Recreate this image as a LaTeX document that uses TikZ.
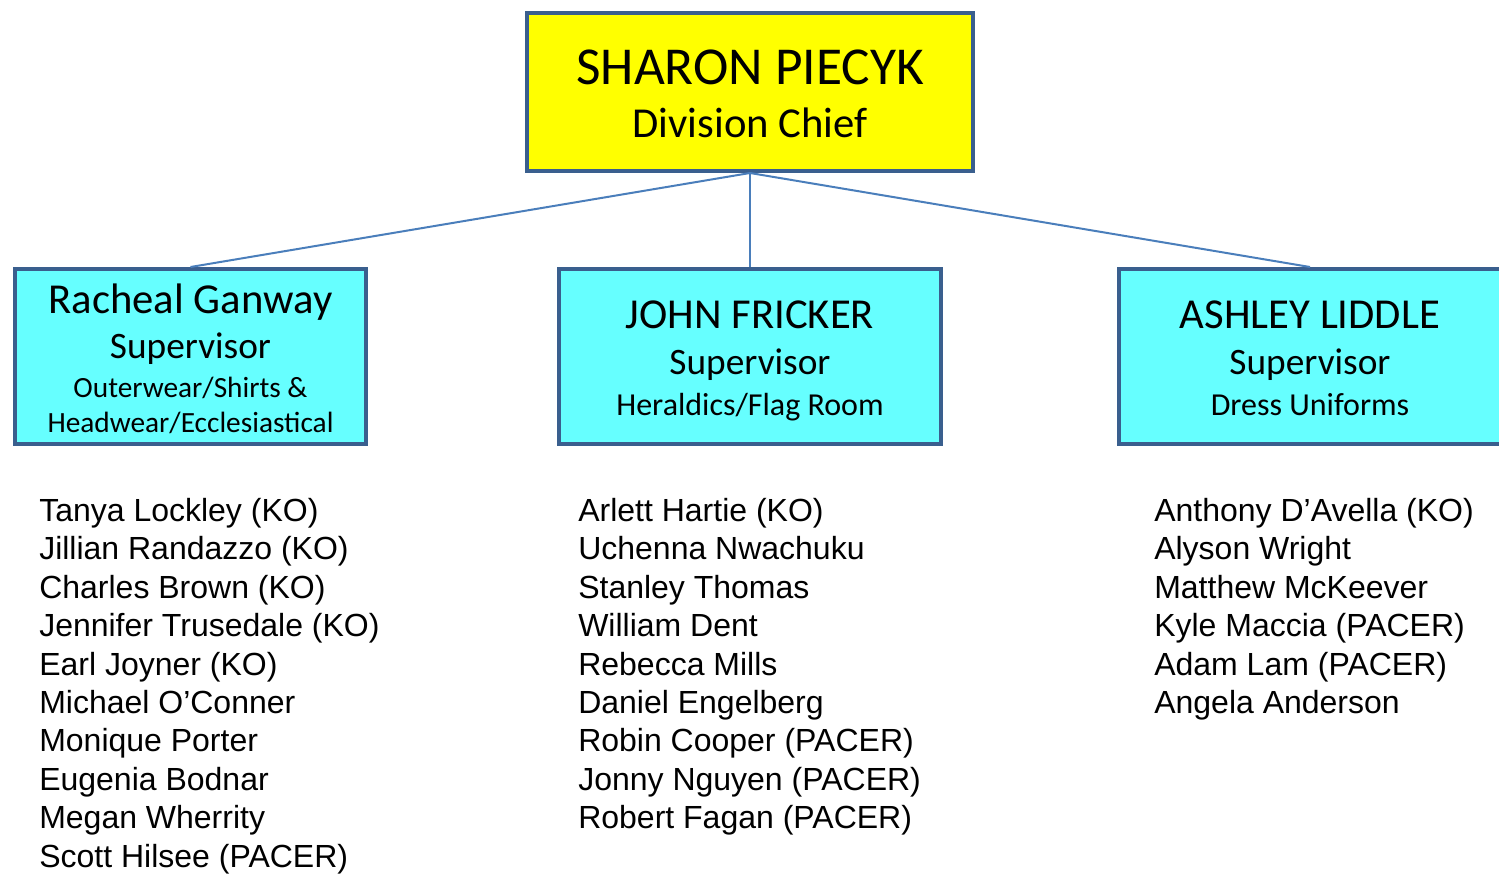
\documentclass[tikz,border=0pt]{standalone}
\usepackage{fontspec}
\setmainfont{Carlito}
\newfontfamily\arialfont{Liberation Sans}
\definecolor{boxborder}{HTML}{3A5F8E}
\definecolor{linkblue}{HTML}{4A7EBB}
\definecolor{chiefyellow}{HTML}{FFFF00}
\definecolor{supcyan}{HTML}{66FFFF}
\newcommand\fsz[1]{\fontsize{#1}{#1}\selectfont}
\begin{document}
\begin{tikzpicture}[x=0.75pt,y=-0.75pt,
  orgbox/.style={draw=boxborder,line width=3pt,rectangle,inner sep=0pt},
  chiefbox/.style={orgbox,fill=chiefyellow,minimum width={446*0.75pt},minimum height={158.5*0.75pt}},
  supbox/.style={orgbox,fill=supcyan,minimum height={174.5*0.75pt}},
  boxtxt/.style={anchor=base,inner sep=0pt},
  link/.style={draw=linkblue,line width=1.5pt},
  staff/.style={anchor=base west,inner sep=0pt,font=\arialfont\fsz{24pt}}]
\useasboundingbox (0,0) rectangle (1499,879);
% boxes
\node[chiefbox] (chief) at (750,91.75) {};
\node[supbox,minimum width={351*0.75pt}] (rg) at (190.5,356.25) {};
\node[supbox,minimum width={382*0.75pt}] (jf) at (750,356.25) {};
\node[supbox,minimum width={382*0.75pt}] (al) at (1310,356.25) {};
% connectors
\draw[link] (chief.south) -- (rg.north);
\draw[link] (chief.south) -- (jf.north);
\draw[link] (chief.south) -- (al.north);
% chief text
\node[boxtxt,font=\fsz{40pt}] (chiefname) at (750,84) {SHARON PIECYK};
\node[boxtxt,font=\fsz{32pt}] (chieftitle) at (750,137) {Division Chief};
% left box text
\node[boxtxt,font=\fsz{32pt}] (rgname) at (190.5,313) {Racheal Ganway};
\node[boxtxt,font=\fsz{28pt}] (rgtitle) at (190.5,358) {Supervisor};
\node[boxtxt,font=\fsz{22pt}] (rgarea1) at (190.5,397) {Outerwear/Shirts \&};
\node[boxtxt,font=\fsz{22pt}] (rgarea2) at (190.5,432) {Headwear/Ecclesiastical};
% middle box text
\node[boxtxt,font=\fsz{32pt}] (jfname) at (750,328) {JOHN FRICKER};
\node[boxtxt,font=\fsz{28pt}] (jftitle) at (750,374) {Supervisor};
\node[boxtxt,font=\fsz{24pt}] (jfarea) at (750,415) {Heraldics/Flag Room};
% right box text
\node[boxtxt,font=\fsz{32pt}] (alname) at (1310,328) {ASHLEY LIDDLE};
\node[boxtxt,font=\fsz{28pt}] (altitle) at (1310,374) {Supervisor};
\node[boxtxt,font=\fsz{24pt}] (alarea) at (1310,415) {Dress Uniforms};
% staff lists
\foreach \t [count=\i from 0] in {Tanya Lockley (KO),Jillian Randazzo (KO),Charles Brown (KO),Jennifer Trusedale (KO),Earl Joyner (KO),Michael O’Conner,Monique Porter,Eugenia Bodnar,Megan Wherrity,Scott Hilsee (PACER)}
  \node[staff] (rgs\i) at (39,521.5+38.4*\i) {\t};
\foreach \t [count=\i from 0] in {Arlett Hartie (KO),Uchenna Nwachuku,Stanley Thomas,William Dent,Rebecca Mills,Daniel Engelberg,Robin Cooper (PACER),Jonny Nguyen (PACER),Robert Fagan (PACER)}
  \node[staff] (jfs\i) at (578,521.5+38.4*\i) {\t};
\foreach \t [count=\i from 0] in {Anthony D’Avella (KO),Alyson Wright,Matthew McKeever,Kyle Maccia (PACER),Adam Lam (PACER),Angela Anderson}
  \node[staff] (als\i) at (1154,521.5+38.4*\i) {\t};
\end{tikzpicture}
\end{document}
